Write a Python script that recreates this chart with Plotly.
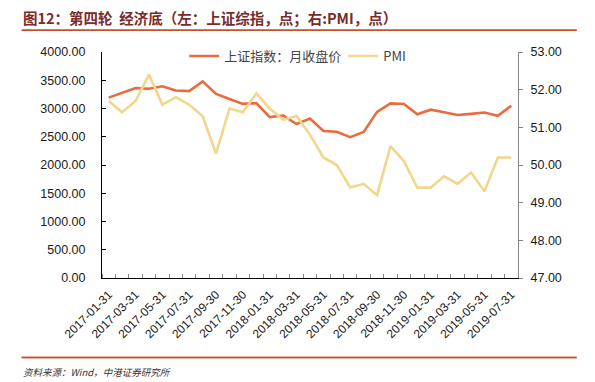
import plotly.graph_objects as go

# ---- data ----
dates = [
    "2017-01-31", "2017-02-28", "2017-03-31", "2017-04-30", "2017-05-31", "2017-06-30",
    "2017-07-31", "2017-08-31", "2017-09-30", "2017-10-31", "2017-11-30", "2017-12-31",
    "2018-01-31", "2018-02-28", "2018-03-31", "2018-04-30", "2018-05-31", "2018-06-30",
    "2018-07-31", "2018-08-31", "2018-09-30", "2018-10-31", "2018-11-30", "2018-12-31",
    "2019-01-31", "2019-02-28", "2019-03-31", "2019-04-30", "2019-05-31", "2019-06-30",
    "2019-07-31",
]
sse_close = [
    3192.43, 3273.03, 3360.81, 3348.94, 3393.34, 3317.19, 3307.17, 3480.83, 3259.41,
    3168.90, 3082.23, 3095.47, 2847.42, 2876.40, 2725.25, 2821.35, 2602.78, 2588.19,
    2493.90, 2584.57, 2940.95, 3090.76, 3078.34, 2898.70, 2978.88, 2932.51, 2886.24,
    2905.19, 2929.06, 2871.98, 3050.12,
]
pmi = [
    51.7, 51.4, 51.7, 52.4, 51.6, 51.8, 51.6, 51.3, 50.3, 51.5, 51.4, 51.9, 51.5, 51.2,
    51.3, 50.8, 50.2, 50.0, 49.4, 49.5, 49.2, 50.5, 50.1, 49.4, 49.4, 49.7, 49.5, 49.8,
    49.3, 50.2, 50.2,
]
left_ticks = [0, 500, 1000, 1500, 2000, 2500, 3000, 3500, 4000]
right_ticks = [47, 48, 49, 50, 51, 52, 53]

title_text = "图12：第四轮  经济底（左：上证综指，点；右:PMI，点）"
source_text = "资料来源：Wind，中港证券研究所"

W, H = 595, 382
L, R, T, B = 101.7, 518.3, 52, 278

idx = list(range(len(dates)))
fig = go.Figure()
fig.add_trace(go.Scatter(
    x=idx, y=sse_close, name="上证指数：月收盘价", mode="lines",
    line=dict(color="#EB6A40", width=2.6), yaxis="y"))
fig.add_trace(go.Scatter(
    x=idx, y=pmi, name="PMI", mode="lines",
    line=dict(color="#F1D68C", width=2.6), yaxis="y2"))

base_font = "Arial, Liberation Sans, Helvetica, sans-serif"
cjk_font = "Noto Sans CJK SC"
fig.update_layout(
    width=W, height=H,
    margin=dict(l=L, r=W - R, t=T, b=H - B, pad=0, autoexpand=False),
    paper_bgcolor="white", plot_bgcolor="white",
    font=dict(family=base_font, size=12, color="#1a1a1a"),
    showlegend=True,
    legend=dict(orientation="h", x=(184 - L) / (R - L), xanchor="left",
                y=(B - 56) / (B - T), yanchor="middle",
                font=dict(family=cjk_font, size=13, color="#444444"),
                bgcolor="rgba(0,0,0,0)", entrywidth=114, entrywidthmode="pixels",
                itemwidth=30),
    xaxis=dict(
        range=[-0.5, len(dates) - 0.5], showgrid=False, zeroline=False, automargin=False,
        showline=True, linecolor="#000000", linewidth=1,
        tickmode="array", tickvals=idx[::2], ticktext=dates[::2],
        tickangle=-45, ticks="", tickfont=dict(family=base_font, size=12, color="#1a1a1a"),
        ticklabelstandoff=4,
        minor=dict(tickmode="array", tickvals=[i - 0.5 for i in range(len(dates) + 1)],
                   ticks="inside", ticklen=4, tickcolor="#888888", tickwidth=1),
    ),
    yaxis=dict(
        range=[0, 4000], tickvals=left_ticks, tickformat=".2f", automargin=False,
        showgrid=False, zeroline=False, showline=True, linecolor="#000000", linewidth=1,
        ticks="inside", ticklen=4, tickcolor="#000000",
        ticklabelstandoff=13, tickfont=dict(family=base_font, size=12.5, color="#1a1a1a"),
    ),
    yaxis2=dict(
        range=[47, 53], tickvals=right_ticks, tickformat=".2f", overlaying="y", side="right",
        automargin=False,
        showgrid=False, zeroline=False, showline=True, linecolor="#888888", linewidth=1,
        ticks="outside", ticklen=4, tickcolor="#888888",
        ticklabelstandoff=5, tickfont=dict(family=base_font, size=12.5, color="#1a1a1a"),
    ),
)

fig.add_annotation(
    text="<b>" + title_text + "</b>", xref="paper", yref="paper",
    x=(21 - L) / (R - L), y=(B - 17) / (B - T), xanchor="left", yanchor="middle",
    showarrow=False, font=dict(family=cjk_font, size=14.5, color="#7A2B2B"))
fig.add_annotation(
    text="<i>" + source_text + "</i>", xref="paper", yref="paper",
    x=(21 - L) / (R - L), y=(B - 372) / (B - T), xanchor="left", yanchor="middle",
    showarrow=False, font=dict(family=cjk_font, size=9.5, color="#333333"))

rule_color = "#C4502F"
rule_left, rule_right = 21, 577
rule_x0 = (rule_left - L) / (R - L)
rule_x1 = (rule_right - L) / (R - L)
for rule_y in (30.3, 357.5):
    yv = (B - rule_y) / (B - T)
    fig.add_shape(type="line", xref="paper", yref="paper", layer="above",
                  x0=rule_x0, x1=rule_x1, y0=yv, y1=yv,
                  line=dict(color=rule_color, width=1.5))
    # same rule drawn as a head-less arrow, in case the shape is hidden
    fig.add_annotation(xref="paper", yref="paper", axref="pixel", ayref="pixel",
                       x=rule_x1, y=yv, ax=-(rule_right - rule_left), ay=0, text="",
                       showarrow=True, arrowhead=0, arrowwidth=1.5, arrowcolor=rule_color,
                       standoff=0, startstandoff=0)

fig.write_html("out.html", config={"displayModeBar": False},
               post_script="document.body.style.margin='0';document.body.style.padding='0';")
